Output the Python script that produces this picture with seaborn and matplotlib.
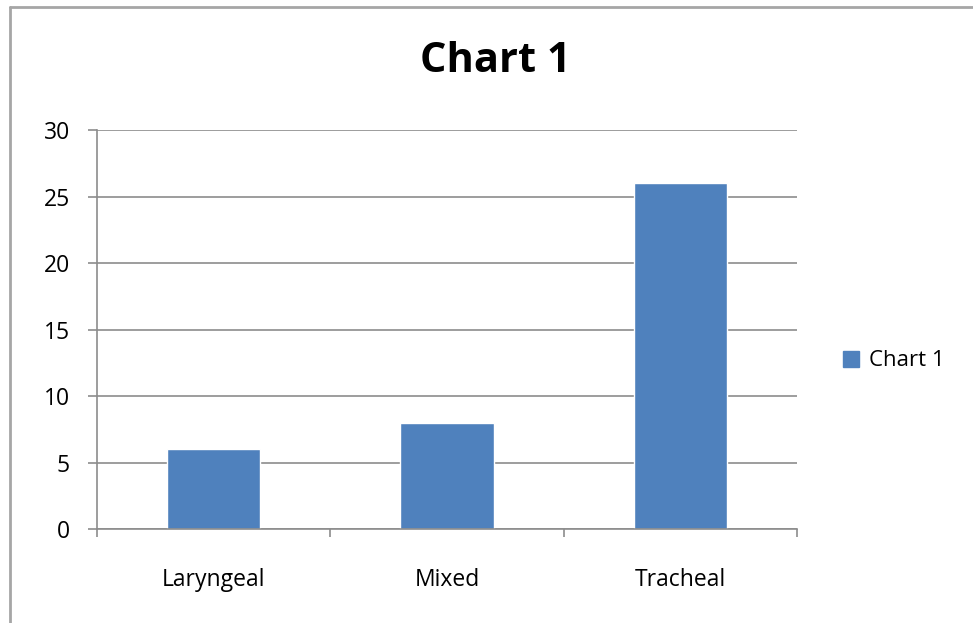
import pandas as pd
import seaborn as sns
import matplotlib.pyplot as plt
from matplotlib.lines import Line2D
from matplotlib.patches import Patch

# data
categories = ['Laryngeal', 'Mixed', 'Tracheal']
values = [6, 8, 26]
series_name = 'Chart 1'

df = pd.DataFrame({'Type': categories, 'Value': values})

sns.set_theme(style='white')
plt.rcParams['font.family'] = ['Open Sans', 'DejaVu Sans']
plt.rcParams['text.color'] = 'black'

fig = plt.figure(figsize=(9.73, 6.23), dpi=100)
ax = fig.add_axes([97 / 973, 1 - 529 / 623, 700 / 973, 399 / 623])

bar_color = '#4F81BD'
sns.barplot(data=df, x='Type', y='Value', color=bar_color, width=0.4,
            saturation=1, ax=ax)

grid_c = '#8C8C8C'
ax.set_ylim(0, 30)
ax.set_xlim(-0.5, 2.5)
ax.set_yticks(range(0, 31, 5))
ax.yaxis.grid(True, color=grid_c, linewidth=1.2)
ax.set_axisbelow(True)
for s in ['top', 'right']:
    ax.spines[s].set_visible(False)
for s in ['left', 'bottom']:
    ax.spines[s].set_color(grid_c)
    ax.spines[s].set_linewidth(1.2)

# category boundary ticks like the original
ax.set_xticks([0, 1, 2])
ax.set_xticks([-0.5, 0.5, 1.5, 2.5], minor=True)
ax.tick_params(axis='x', which='major', length=0, pad=28, labelsize=16.5,
               labelcolor='black')
ax.tick_params(axis='x', which='minor', bottom=True, length=6, width=1.2,
               color=grid_c)
ax.tick_params(axis='y', left=True, length=6.5, width=1.2, color=grid_c,
               labelsize=16.5, labelcolor='black', pad=13)
ax.set_xlabel('')
ax.set_ylabel('')

fig.text(495 / 973, 1 - 62 / 623, 'Chart 1', ha='center', va='center',
         fontsize=30, fontweight='bold', color='black')

handle = Patch(facecolor=bar_color, edgecolor=bar_color)
fig.legend([handle], [series_name], loc='center left',
           bbox_to_anchor=(823 / 973, 1 - 361 / 623), frameon=False,
           fontsize=16, handlelength=0.7, handleheight=0.7,
           handletextpad=0.45, labelcolor='black')

# outer chart border (top and left visible in the crop)
fig.add_artist(Line2D([9.5 / 973, 9.5 / 973], [0, 1 - 7 / 623],
                      transform=fig.transFigure, color='#A6A6A6', linewidth=2))
fig.add_artist(Line2D([9.5 / 973, 1], [1 - 7 / 623, 1 - 7 / 623],
                      transform=fig.transFigure, color='#A6A6A6', linewidth=2))

fig.savefig('out.png', dpi=100, facecolor='white')
